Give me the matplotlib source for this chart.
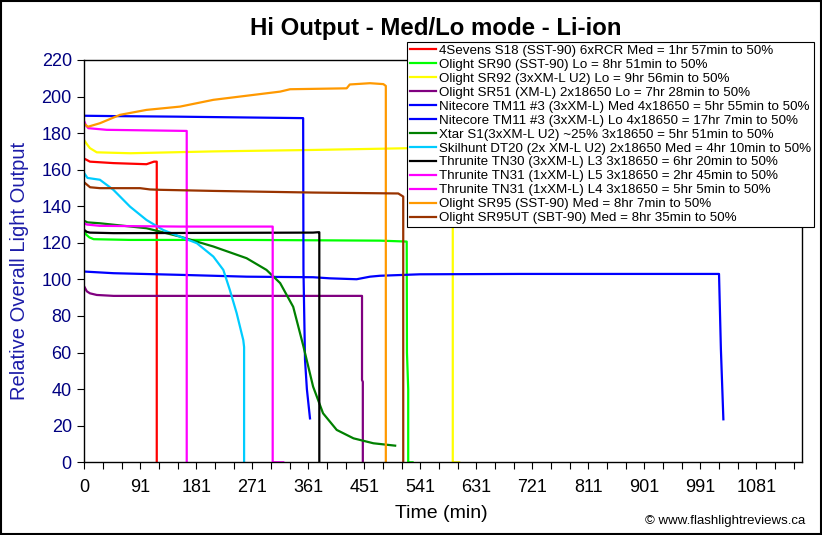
import matplotlib
matplotlib.use("Agg")
import matplotlib.pyplot as plt
from matplotlib.patches import Rectangle
import numpy as np

plt.rcParams['font.family'] = ['Liberation Sans', 'DejaVu Sans']

# runtime data (time in min, relative output)
s18_t = [0, 3, 9, 47, 100, 112, 116.5, 116.5]
s18_v = [166, 165.5, 164.4, 163.6, 163, 164.4, 164.4, 0]

sr90_t = [0, 3, 8, 15, 74, 261, 476, 518.6, 519, 521, 521, 528]
sr90_v = [126.5, 124.5, 123, 122, 121.6, 121.6, 121.2, 120.7, 60, 40, 0, 0]

sr92_t = [0, 4, 9, 20, 74, 207, 368, 529, 592.7, 592.7, 603]
sr92_v = [176, 174, 171.8, 169.5, 169, 170, 170.8, 171.8, 172.3, 0, 0]

sr51_t = [0, 4, 9, 20, 47, 446.7, 446.7, 448, 448]
sr51_v = [96, 93.5, 92.4, 91.5, 91, 91, 45, 44, 0]

tm11med_t = [0, 50, 150, 250, 352, 352.5, 355, 358, 363]
tm11med_v = [189.5, 189.3, 189, 188.6, 188.2, 105, 56, 40, 24]

tm11lo_t = [0, 47, 154, 261, 368, 395, 438, 459.5, 475.6, 540, 700, 1021, 1024, 1028]
tm11lo_v = [104.3, 103.4, 102.5, 101.5, 101.2, 100.6, 100.1, 101.5, 102, 102.8, 103, 103, 62, 23.5]

xtar_t = [0, 5, 25, 100, 154, 207.5, 261, 293, 315, 336, 352, 368, 384, 406, 433, 465, 500]
xtar_v = [132, 131.2, 130.7, 128, 123.4, 118, 111.6, 105.2, 98, 85, 64, 41.4, 26.8, 17.7, 13.1, 10.4, 9.1]

dt20_t = [0, 5, 25, 46.7, 73.5, 100, 127, 154, 181, 207.5, 223.6, 234, 245, 255.7, 257, 257]
dt20_v = [158, 155.5, 154.5, 149, 139.8, 132.5, 127, 123.4, 119.8, 112.5, 105.2, 94.3, 81.6, 66.8, 63, 0]

tn30_t = [0, 4, 9, 47, 368, 376, 378, 378]
tn30_v = [127, 126, 125.6, 125.3, 125.6, 125.8, 125.8, 0]

tn31l5_t = [0, 3, 6.4, 36, 164.7, 164.7]
tn31l5_v = [186.3, 184, 182.7, 181.8, 181.2, 0]

tn31l4_t = [0, 4, 25, 154, 303, 303, 320]
tn31l4_v = [130.7, 130, 129.3, 128.9, 128.9, 0, 0]

sr95_t = [0, 6, 25, 57.4, 100, 154, 207.5, 315, 331, 422, 427, 459.5, 481, 485, 485]
sr95_v = [185, 183.5, 185.4, 190, 192.7, 194.5, 198.2, 202.7, 204, 204.5, 206.6, 207.3, 206.8, 205.8, 0]

sr95ut_t = [0, 9.2, 25, 89.6, 105.7, 122, 207.5, 368, 505, 513, 513]
sr95ut_v = [153, 150.4, 149.9, 149.9, 149.2, 149, 148.4, 147.5, 147, 145.3, 0]

labels = [
    "4Sevens S18 (SST-90) 6xRCR Med = 1hr 57min to 50%",
    "Olight SR90 (SST-90) Lo = 8hr 51min to 50%",
    "Olight SR92 (3xXM-L U2) Lo = 9hr 56min to 50%",
    "Olight SR51 (XM-L) 2x18650 Lo = 7hr 28min to 50%",
    "Nitecore TM11 #3 (3xXM-L) Med 4x18650 = 5hr 55min to 50%",
    "Nitecore TM11 #3 (3xXM-L) Lo 4x18650 = 17hr 7min to 50%",
    "Xtar S1(3xXM-L U2) ~25% 3x18650 = 5hr 51min to 50%",
    "Skilhunt DT20 (2x XM-L U2) 2x18650 Med = 4hr 10min to 50%",
    "Thrunite TN30 (3xXM-L) L3 3x18650 = 6hr 20min to 50%",
    "Thrunite TN31 (1xXM-L) L5 3x18650 = 2hr 45min to 50%",
    "Thrunite TN31 (1xXM-L) L4 3x18650 = 5hr 5min to 50%",
    "Olight SR95 (SST-90) Med = 8hr 7min to 50%",
    "Olight SR95UT (SBT-90) Med = 8hr 35min to 50%",
]
series = [(s18_t, s18_v), (sr90_t, sr90_v), (sr92_t, sr92_v), (sr51_t, sr51_v),
          (tm11med_t, tm11med_v), (tm11lo_t, tm11lo_v), (xtar_t, xtar_v),
          (dt20_t, dt20_v), (tn30_t, tn30_v), (tn31l5_t, tn31l5_v),
          (tn31l4_t, tn31l4_v), (sr95_t, sr95_v), (sr95ut_t, sr95ut_v)]
colors = ['#FF0000', '#00FF00', '#FFFF00', '#800080', '#0000FF', '#0000FF', '#008000',
          '#00CCFF', '#000000', '#FF00FF', '#FF00FF', '#FF9900', '#993300']

xtick_labels = ['0', '91', '181', '271', '361', '451', '541', '631', '721',
                '811', '901', '991', '1081']

fig = plt.figure(figsize=(8.22, 5.35), dpi=100)
ax = fig.add_axes([0.1026, 0.1359, 0.8727, 0.752])

for (t, v), c, lab in zip(series, colors, labels):
    ax.plot(t, v, color=c, lw=1.6, label=lab)

ax.set_xlim(0, 1154)
ax.set_ylim(0, 220)

# excel-style category ticks: one tick every ~30 min, label every third
step = 1081 / 36
ticks = np.arange(39) * step
ax.set_xticks(ticks)
ax.set_xticklabels([xtick_labels[i // 3] if i % 3 == 0 and i // 3 < len(xtick_labels) else ''
                    for i in range(len(ticks))])
ax.set_yticks(np.arange(0, 221, 20))
ax.tick_params(axis='x', direction='out', length=5, width=0.8, pad=7, labelsize=13, colors='black')
ax.tick_params(axis='y', direction='out', length=5, width=0.8, pad=4, labelsize=13,
               labelcolor='#000080')
for sp in ax.spines.values():
    sp.set_linewidth(1.0)

fig.text(436 / 822, 1 - 28 / 535, "Hi Output - Med/Lo mode - Li-ion", ha='center', va='center',
         fontsize=17.3, fontweight='bold')
fig.text(20 / 822, 1 - 271 / 535, "Relative Overall Light Output", rotation=90, ha='center',
         va='center', fontsize=14.5, color='#1C1CA8')
fig.text(441 / 822, 1 - 514 / 535, "Time (min)", ha='center', va='center', fontsize=14)
fig.text(805 / 822, 1 - 521 / 535, "\u00a9 www.flashlightreviews.ca", ha='right', va='center',
         fontsize=9.5)

leg = fig.legend(loc='upper left', bbox_to_anchor=(407 / 822, 1 - 42 / 535), fontsize=9.6,
                 frameon=True, fancybox=False, framealpha=1, edgecolor='black',
                 handlelength=2.0, handletextpad=0.2, labelspacing=0.12,
                 borderpad=0.2, borderaxespad=0)
leg.get_frame().set_linewidth(0.8)

fig.patches.append(Rectangle((0.001, 0.001), 0.998, 0.997, transform=fig.transFigure,
                             fill=False, lw=1.5, edgecolor='black'))

fig.savefig("out.png", dpi=100)
